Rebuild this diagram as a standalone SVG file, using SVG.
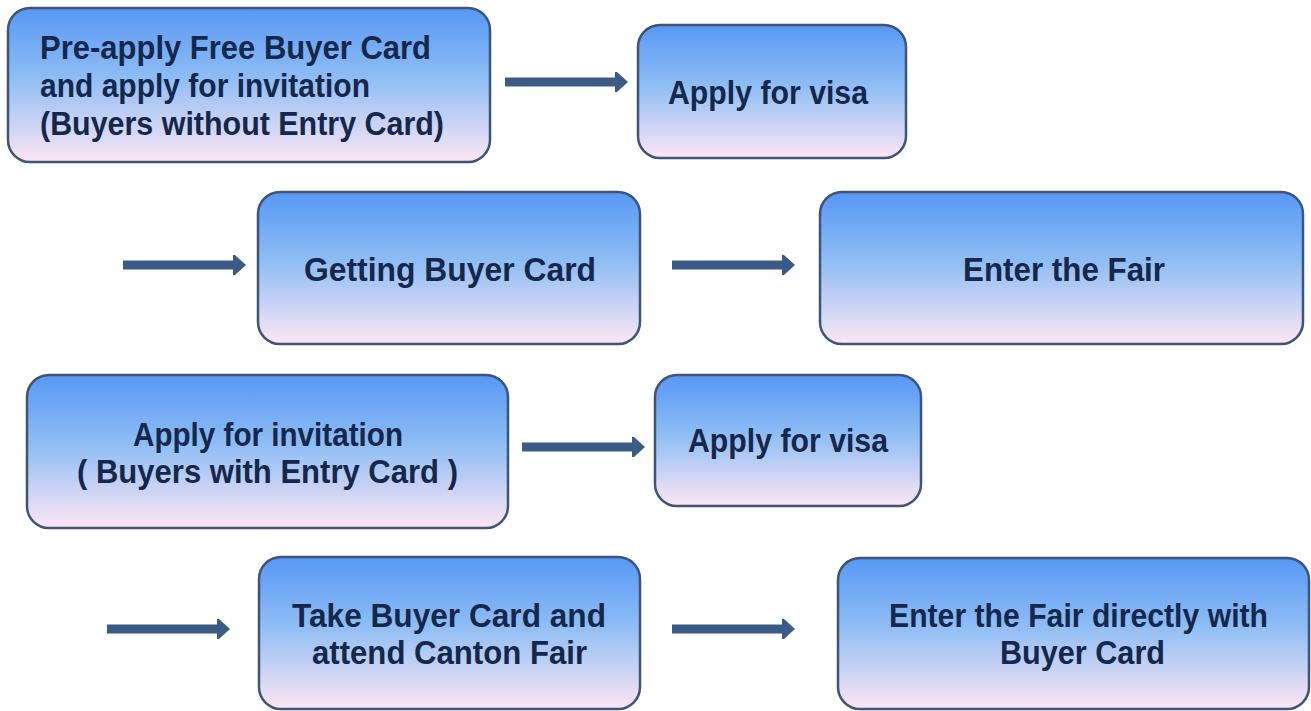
<svg xmlns="http://www.w3.org/2000/svg" width="1311" height="711" viewBox="0 0 1311 711">
<defs>
<linearGradient id="g" x1="0" y1="0" x2="0" y2="1">
<stop offset="0" stop-color="#5797f5"/>
<stop offset="0.45" stop-color="#8ebdf5"/>
<stop offset="1" stop-color="#fde6f4"/>
</linearGradient>
<marker id="ah" markerWidth="13" markerHeight="22" refX="1" refY="11" orient="auto" markerUnits="userSpaceOnUse">
<path d="M0,1 L2,1 L13,11 L2,21 L0,21 Z" fill="#3b5b86"/>
</marker>
<style>
.box{fill:url(#g);stroke:#3e5577;stroke-width:2.5}
.t{font-family:"Liberation Sans",Arial,sans-serif;font-weight:bold;font-size:33px;fill:#15274a}
.arr{stroke:#3b5b86;stroke-width:9;fill:none}
</style>
</defs>
<rect width="1311" height="711" fill="#ffffff"/>
<g id="connectors">
<path class="arr" d="M505,82 H616" marker-end="url(#ah)"/>
<path class="arr" d="M123,265 H234" marker-end="url(#ah)"/>
<path class="arr" d="M672,265 H783" marker-end="url(#ah)"/>
<path class="arr" d="M522,447 H633" marker-end="url(#ah)"/>
<path class="arr" d="M107,629 H218" marker-end="url(#ah)"/>
<path class="arr" d="M672,629 H783" marker-end="url(#ah)"/>
</g>
<g id="n1">
<rect class="box" x="8" y="8" width="482" height="154" rx="22"/>
<text class="t" x="40" y="59" textLength="391" lengthAdjust="spacingAndGlyphs">Pre-apply Free Buyer Card</text>
<text class="t" x="40" y="97" textLength="330" lengthAdjust="spacingAndGlyphs">and apply for invitation</text>
<text class="t" x="40" y="135" textLength="404" lengthAdjust="spacingAndGlyphs">(Buyers without Entry Card)</text>
</g>
<g id="n2">
<rect class="box" x="638" y="25" width="268" height="133" rx="22"/>
<text class="t" x="668" y="104" textLength="200" lengthAdjust="spacingAndGlyphs">Apply for visa</text>
</g>
<g id="n3">
<rect class="box" x="258" y="192" width="382" height="152" rx="22"/>
<text class="t" x="304" y="281" textLength="292" lengthAdjust="spacingAndGlyphs">Getting  Buyer Card</text>
</g>
<g id="n4">
<rect class="box" x="820" y="192" width="483" height="152" rx="22"/>
<text class="t" x="963" y="281" textLength="202" lengthAdjust="spacingAndGlyphs">Enter the Fair</text>
</g>
<g id="n5">
<rect class="box" x="27" y="375" width="481" height="153" rx="22"/>
<text class="t" x="133" y="446" textLength="270" lengthAdjust="spacingAndGlyphs">Apply for invitation</text>
<text class="t" x="77" y="483" textLength="381" lengthAdjust="spacingAndGlyphs">( Buyers with Entry Card )</text>
</g>
<g id="n6">
<rect class="box" x="655" y="375" width="266" height="131" rx="22"/>
<text class="t" x="688" y="452" textLength="200" lengthAdjust="spacingAndGlyphs">Apply for visa</text>
</g>
<g id="n7">
<rect class="box" x="259" y="557" width="381" height="152" rx="22"/>
<text class="t" x="292" y="627" textLength="314" lengthAdjust="spacingAndGlyphs">Take Buyer Card and</text>
<text class="t" x="312" y="664" textLength="275" lengthAdjust="spacingAndGlyphs">attend Canton Fair</text>
</g>
<g id="n8">
<rect class="box" x="838" y="558" width="471" height="151" rx="22"/>
<text class="t" x="889" y="627" textLength="379" lengthAdjust="spacingAndGlyphs">Enter the Fair directly with</text>
<text class="t" x="1000" y="664" textLength="165" lengthAdjust="spacingAndGlyphs">Buyer Card</text>
</g>
</svg>
